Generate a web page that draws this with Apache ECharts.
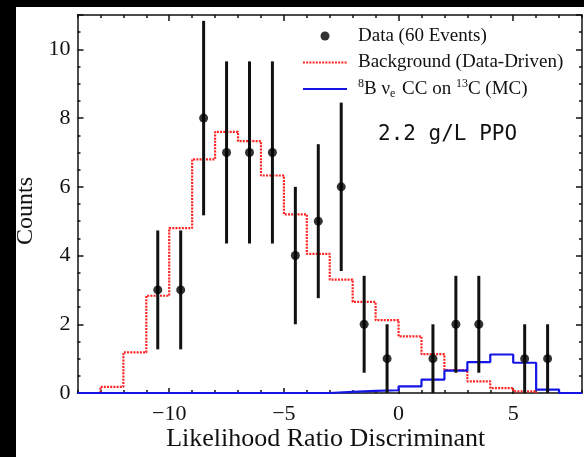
<!DOCTYPE html>
<html>
<head>
<meta charset="utf-8">
<script src="https://cdn.jsdelivr.net/npm/echarts@6/dist/echarts.min.js"></script>
<style>
  html, body { margin: 0; padding: 0; background: #000; }
  #panel { position: absolute; left: 16px; top: 7px; right: 0; bottom: 0; background: #fff; }
  #main { position: absolute; left: 0; top: 0; width: 584px; height: 457px; }
</style>
</head>
<body>
<div id="panel"></div>
<div id="main"></div>
<script>
// histogram bins are 1 unit wide, first edge given
var bgStart = -13;
var bgCounts = [0.18, 1.18, 2.83, 4.8, 6.8, 7.6, 7.33, 6.33, 5.2, 4.05, 3.3, 2.65, 2.12, 1.65, 1.13, 0.67, 0.34, 0.14, 0.05];
var sigStart = -14;
var sigCounts = [0, 0, 0, 0, 0, 0, 0, 0, 0, 0, 0, 0.03, 0.06, 0.08, 0.19, 0.39, 0.65, 0.9, 1.12, 0.88, 0.1, 0];

// data points (bin centres) with error bars
var dataX  = [-10.5, -9.5, -8.5, -7.5, -6.5, -5.5, -4.5, -3.5, -2.5, -1.5, -0.5, 1.5, 2.5, 3.5, 5.5, 6.5];
var dataY  = [3, 3, 8, 7, 7, 7, 4, 5, 6, 2, 1, 1, 2, 2, 1, 1];
var errLo  = [1.27, 1.27, 5.17, 4.35, 4.35, 4.35, 2, 2.76, 3.55, 0.59, 0, 0, 0.59, 0.59, 0, 0];
var errHi  = [4.73, 4.73, 10.83, 9.65, 9.65, 9.65, 6, 7.24, 8.45, 3.41, 2, 2, 3.41, 3.41, 2, 2];

var xMin = -14, xMax = 8, yMin = 0, yMax = 11;

function stepPoints(start, counts) {
    var pts = [[start, 0]];
    counts.forEach(function (c, i) { pts.push([start + i, c]); });
    pts.push([start + counts.length, 0]);
    return pts;
}

var dom = document.getElementById('main');
var myChart = echarts.init(dom, null, {renderer: 'canvas'});

var serif = 'Liberation Serif';
var ink = '#111';
var gl = 77.5, gr = 2;
var unit = (584 - gl - gr) / (xMax - xMin);

function minusFmt(v) { return v < 0 ? '\u2212' + Math.abs(v) : String(v); }

var lineAx = {show: true, onZero: false, lineStyle: {color: ink, width: 1.5}};
var noLine = {show: false, onZero: false};

var option = {
    animation: false,
    title: {
        text: '2.2 g/L PPO',
        left: 373, top: 119,
        textStyle: {fontFamily: 'DejaVu Sans Mono', fontSize: 21, fontWeight: 'normal', color: ink}
    },
    legend: {
        orient: 'vertical',
        left: 297, top: 20,
        itemWidth: 44, itemHeight: 9,
        itemGap: 4.5,
        data: [
            {name: 'Data (60 Events)'},
            {name: 'Background (Data-Driven)', itemStyle: {opacity: 0}},
            {name: 'sig', itemStyle: {opacity: 0}}
        ],
        formatter: function (name) {
            if (name === 'sig') return '{sup|8}B \u03bd{sub|e} CC on {sup|13}C (MC)';
            return name;
        },
        textStyle: {
            fontFamily: serif, fontSize: 19, color: ink, lineHeight: 22, padding: [0, 0, 0, 6],
            rich: {
                sup: {fontFamily: serif, fontSize: 12, lineHeight: 22, verticalAlign: 'top', color: ink},
                sub: {fontFamily: serif, fontSize: 12, lineHeight: 22, verticalAlign: 'bottom', color: ink, padding: [0, 2, 0, 0]}
            }
        }
    },
    grid: [
        {left: gl, right: gr, top: 15, bottom: 63},
        {left: gl + 4 * unit, right: gr + 3 * unit, top: 15, bottom: 63}
    ],
    xAxis: [
        {   // bottom minor ticks + axis name
            gridIndex: 0, type: 'value', position: 'bottom', min: xMin, max: xMax, interval: 1,
            axisLine: lineAx, splitLine: {show: false},
            axisTick: {inside: true, length: 3, lineStyle: {color: ink, width: 1.5}},
            axisLabel: {show: false},
            name: 'Likelihood Ratio Discriminant', nameLocation: 'middle', nameGap: 33,
            nameTextStyle: {fontFamily: serif, fontSize: 26, color: ink, padding: [0, 8, 0, 0]}
        },
        {   // top minor ticks
            gridIndex: 0, type: 'value', position: 'top', min: xMin, max: xMax, interval: 1,
            axisLine: lineAx, splitLine: {show: false},
            axisTick: {inside: true, length: 3, lineStyle: {color: ink, width: 1.5}},
            axisLabel: {show: false}
        },
        {   // bottom major ticks + labels
            gridIndex: 1, type: 'value', position: 'bottom', min: -10, max: 5, interval: 5,
            axisLine: noLine, splitLine: {show: false},
            axisTick: {inside: true, length: 6, lineStyle: {color: ink, width: 1.5}},
            axisLabel: {margin: 9, fontFamily: serif, fontSize: 22, color: ink, formatter: minusFmt}
        },
        {   // top major ticks
            gridIndex: 1, type: 'value', position: 'top', min: -10, max: 5, interval: 5,
            axisLine: noLine, splitLine: {show: false},
            axisTick: {inside: true, length: 6, lineStyle: {color: ink, width: 1.5}},
            axisLabel: {show: false}
        }
    ],
    yAxis: [
        {
            gridIndex: 0, type: 'value', position: 'left', min: yMin, max: yMax, interval: 0.5,
            axisLine: lineAx, splitLine: {show: false},
            axisTick: {inside: true, length: 3, lineStyle: {color: ink, width: 1.5}},
            axisLabel: {show: false},
            name: 'Counts', nameLocation: 'middle', nameGap: 40,
            nameTextStyle: {fontFamily: serif, fontSize: 24, color: ink, padding: [0, 14, 0, 0]}
        },
        {
            gridIndex: 0, type: 'value', position: 'left', min: yMin, max: yMax, interval: 2,
            axisLine: noLine, splitLine: {show: false},
            axisTick: {inside: true, length: 6, lineStyle: {color: ink, width: 1.5}},
            axisLabel: {
                margin: 7, fontFamily: serif, fontSize: 22, color: ink,
                formatter: function (v) { return v % 2 === 0 ? String(v) : ''; }
            }
        },
        {
            gridIndex: 0, type: 'value', position: 'right', min: yMin, max: yMax, interval: 0.5,
            axisLine: lineAx, splitLine: {show: false},
            axisTick: {inside: true, length: 3, lineStyle: {color: ink, width: 1.5}},
            axisLabel: {show: false}
        },
        {
            gridIndex: 0, type: 'value', position: 'right', min: yMin, max: yMax, interval: 2,
            axisLine: noLine, splitLine: {show: false},
            axisTick: {inside: true, length: 6, lineStyle: {color: ink, width: 1.5}},
            axisLabel: {show: false}
        },
        {gridIndex: 1, type: 'value', min: yMin, max: yMax, show: false, axisLine: noLine}
    ],
    series: [
        {
            name: 'Background (Data-Driven)',
            type: 'line', step: 'end', symbol: 'none', clip: false,
            xAxisIndex: 0, yAxisIndex: 0,
            lineStyle: {color: '#f22', width: 2.2, type: [2, 1.2]},
            itemStyle: {color: '#f22'},
            data: stepPoints(bgStart, bgCounts),
            z: 3
        },
        {
            name: 'sig',
            type: 'line', step: 'end', symbol: 'none', clip: false,
            xAxisIndex: 0, yAxisIndex: 0,
            lineStyle: {color: '#1515e6', width: 2.2},
            itemStyle: {color: '#1515e6'},
            data: stepPoints(sigStart, sigCounts),
            z: 4
        },
        {
            name: 'errors',
            type: 'custom',
            xAxisIndex: 0, yAxisIndex: 0,
            data: dataX.map(function (x, i) { return [x, errLo[i], errHi[i]]; }),
            encode: {x: 0, y: [1, 2]},
            renderItem: function (params, api) {
                var p0 = api.coord([api.value(0), api.value(1)]);
                var p1 = api.coord([api.value(0), api.value(2)]);
                return {
                    type: 'line',
                    shape: {x1: p0[0], y1: p0[1], x2: p1[0], y2: p1[1]},
                    style: {stroke: ink, lineWidth: 3}
                };
            },
            z: 5
        },
        {
            name: 'Data (60 Events)',
            type: 'scatter',
            xAxisIndex: 0, yAxisIndex: 0,
            symbol: 'circle', symbolSize: 9,
            itemStyle: {color: '#000'},
            data: dataX.map(function (x, i) { return [x, dataY[i]]; }),
            z: 6
        }
    ]
};

if (option && typeof option === "object") {
    myChart.setOption(option, true);
}
</script>
</body>
</html>
